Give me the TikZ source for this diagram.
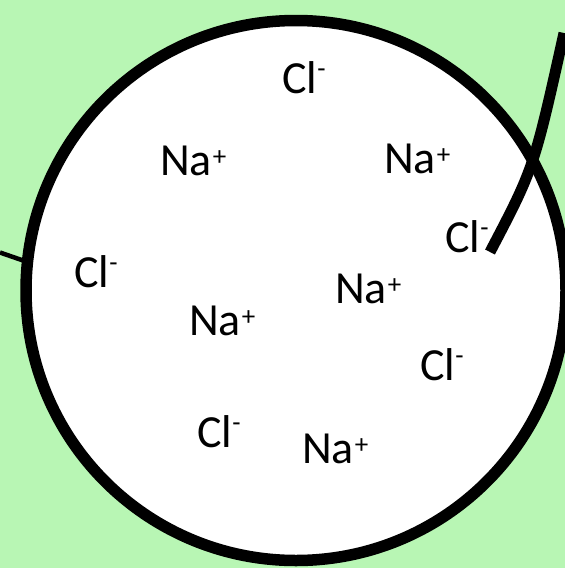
\documentclass[tikz,border=0pt]{standalone}
\usepackage{fontspec}
\setmainfont{Carlito}
\definecolor{bggreen}{RGB}{184,246,180}
\newcommand{\plusion}{\hspace{1pt}\raisebox{10pt}{\fontsize{27}{27}\selectfont +}}
\newcommand{\minusion}{\raisebox{16pt}{\fontsize{27}{27}\selectfont -}}
\tikzset{ion/.style={anchor=base west, inner sep=0pt, font=\fontsize{46}{54}\selectfont}}

\begin{document}
\begin{tikzpicture}[x=1pt,y=-1pt]

% background
\fill[bggreen] (0,0) rectangle (565,568);
\useasboundingbox (0,0) rectangle (565,568);

% thin line coming in from the left
\coordinate (leftend) at (0,252.5);
\coordinate (leftcell) at (26,261.5);
\draw[line width=4.5pt] (leftend) -- (leftcell);

% the cell
\draw[line width=11.5pt, fill=white] (296,290.5) circle[radius=270];

% Ions
\node[ion] (cla) at (282,93) {Cl\minusion};
\node[ion] (naa) at (160,175) {Na\plusion};
\node[ion] (nab) at (384,173) {Na\plusion};
\node[ion] (clb) at (445,252) {Cl\minusion};
\node[ion] (clc) at (74,287) {Cl\minusion};
\node[ion] (nac) at (335,303) {Na\plusion};
\node[ion] (nad) at (189,335) {Na\plusion};
\node[ion] (cld) at (420,380) {Cl\minusion};
\node[ion] (cle) at (197,447) {Cl\minusion};
\node[ion] (nae) at (302,463) {Na\plusion};

% tail crossing the cell wall
\coordinate (tailin) at (490,252);
\coordinate (tailout) at (564,33);
\draw[line width=11pt] (tailin) .. controls (534,168) .. (tailout);

\end{tikzpicture}
\end{document}
